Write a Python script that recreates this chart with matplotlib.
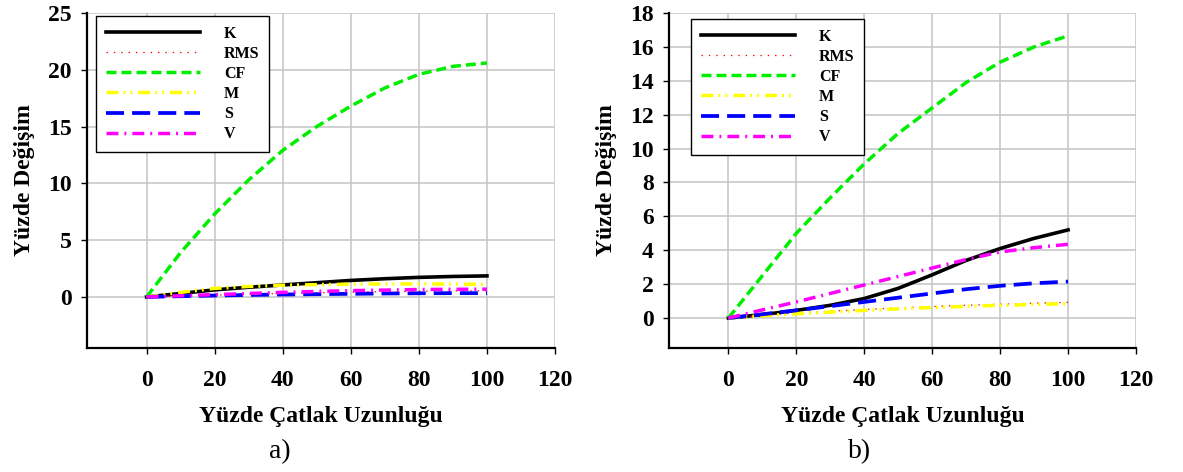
import matplotlib
matplotlib.use("Agg")
import matplotlib.pyplot as plt

# crack length (%)
x = [0, 10, 20, 30, 40, 50, 60, 70, 80, 90, 100]

# panel a)
k_a = [0, 0.3, 0.62, 0.85, 1.05, 1.25, 1.45, 1.6, 1.72, 1.8, 1.85]
rms_a = [0, 0.08, 0.16, 0.24, 0.3, 0.36, 0.42, 0.46, 0.5, 0.52, 0.54]
cf_a = [0, 3.9, 7.3, 10.3, 12.9, 15.0, 16.8, 18.4, 19.6, 20.3, 20.6]
m_a = [0, 0.4, 0.75, 0.92, 1.03, 1.08, 1.12, 1.14, 1.15, 1.13, 1.1]
s_a = [0, 0.06, 0.12, 0.17, 0.21, 0.24, 0.27, 0.3, 0.32, 0.33, 0.33]
v_a = [0, 0.1, 0.2, 0.3, 0.4, 0.48, 0.55, 0.6, 0.65, 0.67, 0.68]

# panel b)
k_b = [0, 0.2, 0.45, 0.75, 1.15, 1.75, 2.55, 3.4, 4.1, 4.7, 5.2]
rms_b = [0, 0.15, 0.3, 0.4, 0.5, 0.6, 0.68, 0.75, 0.82, 0.88, 0.92]
cf_b = [0, 2.5, 5.0, 7.1, 9.1, 10.9, 12.4, 13.9, 15.1, 16.0, 16.65]
m_b = [0, 0.13, 0.25, 0.35, 0.45, 0.54, 0.62, 0.69, 0.75, 0.8, 0.85]
s_b = [0, 0.22, 0.45, 0.7, 0.95, 1.2, 1.45, 1.7, 1.9, 2.05, 2.15]
v_b = [0, 0.48, 0.95, 1.45, 1.95, 2.45, 2.95, 3.45, 3.9, 4.15, 4.35]

labels = ["K", "RMS", "CF", "M", "S", "V"]
xticks = [0, 20, 40, 60, 80, 100, 120]
yticks_a = [0, 5, 10, 15, 20, 25]
yticks_b = [0, 2, 4, 6, 8, 10, 12, 14, 16, 18]

plt.rcParams['lines.scale_dashes'] = False
plt.rcParams['font.family'] = ['Liberation Serif', 'DejaVu Serif']

styles = [
    dict(color='black', lw=2.6, ls='-'),
    dict(color='#ff0000', lw=0.9, dashes=(1.0, 4.3)),
    dict(color='#00ee00', lw=2.5, dashes=(7.2, 3.6)),
    dict(color='#ffff00', lw=2.5, dashes=(8.6, 3.6, 1.4, 3.6, 1.4, 4.3)),
    dict(color='#0000ff', lw=2.7, dashes=(13, 5.8)),
    dict(color='#ff00ff', lw=2.5, dashes=(8.6, 4.3, 1.4, 4.3)),
]


def draw(ax, series, yticks, ylim, leg_pos):
    for ys, lab, st in zip(series, labels, styles):
        ax.plot(x, ys, label=lab, **st)
    ax.set_xlim(-17.5, 120)
    ax.set_ylim(*ylim)
    ax.set_xticks(xticks)
    ax.set_yticks(yticks)
    ax.grid(True, color='#c8c8c8', lw=1.2)
    ax.set_axisbelow(True)
    for sp in ['top', 'right']:
        ax.spines[sp].set_visible(False)
    for sp in ['left', 'bottom']:
        ax.spines[sp].set_linewidth(1.6)
    ax.tick_params(axis='x', direction='out', length=4, width=1, pad=12, labelsize=17)
    ax.tick_params(axis='y', direction='out', length=4, width=1, pad=7, labelsize=17)
    for t in ax.get_xticklabels() + ax.get_yticklabels():
        t.set_fontweight('bold')
    ax.set_xlabel("Yüzde Çatlak Uzunluğu", fontsize=17, fontweight='bold')
    ax.set_ylabel("Yüzde Değişim", fontsize=17, fontweight='bold')
    ax.xaxis.set_label_coords(0.5, -0.172)
    ax.yaxis.set_label_coords(-0.112, 0.5)
    leg = ax.legend(loc='upper left', bbox_to_anchor=leg_pos, bbox_transform=fig.transFigure,
                    borderaxespad=0, fancybox=False, framealpha=1, edgecolor='black',
                    prop=dict(family='Liberation Serif', weight='bold', size=11.5),
                    handlelength=5.9, handletextpad=1.5, labelspacing=0.26, borderpad=0.6)
    leg.get_frame().set_linewidth(1.0)


fig = plt.figure(figsize=(11.83, 4.72), dpi=100)
ax1 = fig.add_axes([87 / 1183, 1 - 348 / 472, (555 - 87) / 1183, 335 / 472])
ax2 = fig.add_axes([669 / 1183, 1 - 348 / 472, (1136 - 669) / 1183, 335 / 472])

draw(ax1, [k_a, rms_a, cf_a, m_a, s_a, v_a], yticks_a, (-4.5, 25), (96 / 1183, 1 - 16 / 472))
draw(ax2, [k_b, rms_b, cf_b, m_b, s_b, v_b], yticks_b, (-1.77, 18), (691 / 1183, 1 - 19 / 472))

fig.text(280 / 1183, 1 - 452 / 472, "a)", fontsize=20, ha='center', va='center')
fig.text(860 / 1183, 1 - 452 / 472, "b)", fontsize=20, ha='center', va='center')

fig.savefig("out.png", dpi=100)
